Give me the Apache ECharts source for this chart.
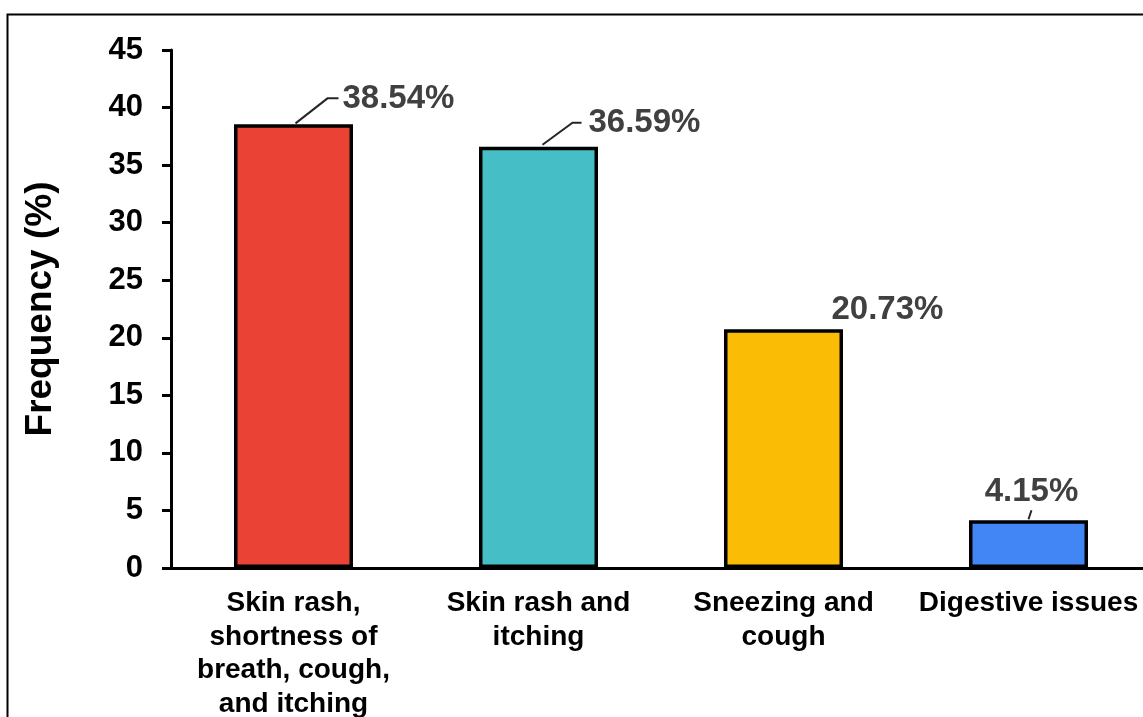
<!DOCTYPE html>
<html>
<head>
<meta charset="utf-8">
<title>Frequency of reported symptoms</title>
<script src="https://cdn.jsdelivr.net/npm/echarts@6/dist/echarts.min.js"></script>
<style>
  html, body { margin: 0; padding: 0; background: #ffffff; overflow: hidden; }
  #chart { width: 1143px; height: 717px; }
</style>
</head>
<body>
<div id="chart"></div>
<script>
// Symptom categories (x axis) and their frequencies in percent
const categories = [
  'Skin rash,\nshortness of\nbreath, cough,\nand itching',
  'Skin rash and\nitching',
  'Sneezing and\ncough',
  'Digestive issues'
];
const frequencies = [38.54, 36.59, 20.73, 4.15];
const barColors = ['#EA4335', '#46BEC6', '#FBBC05', '#4285F4'];
const yTicks = { min: 0, max: 45, interval: 5 };

const FONT = '"Liberation Sans", Arial, Helvetica, sans-serif';

// Placement of each value callout relative to the top centre of its bar:
// text anchor (dx, dy), text alignment and the leader line points.
const callouts = [
  { dx: 49, dy: -25, align: 'left',   line: [[2, -1], [34, -26], [45, -26]] },
  { dx: 50, dy: -24, align: 'left',   line: [[4, -2], [34, -24], [43, -24]] },
  { dx: 48, dy: -19, align: 'left',   line: null },
  { dx: 3,  dy: -28, align: 'center', line: [[0, -1], [3, -10]] }
];

const chart = echarts.init(document.getElementById('chart'), null, { renderer: 'canvas' });

const option = {
  backgroundColor: '#ffffff',
  animation: false,
  textStyle: { fontFamily: FONT },
  graphic: [{
    type: 'rect',
    silent: true,
    z: 100,
    shape: { x: 7.5, y: 14.5, width: 1400, height: 1000 },
    style: { fill: 'none', stroke: '#000000', lineWidth: 2 }
  }],
  grid: {
    left: 171,
    right: -8,
    top: 50,
    bottom: 149,
    containLabel: false,
    outerBoundsMode: 'none'
  },
  xAxis: {
    type: 'category',
    data: categories,
    axisLine: { show: true, lineStyle: { color: '#000000', width: 3 } },
    axisTick: { show: false },
    axisLabel: {
      interval: 0,
      margin: 19,
      color: '#000000',
      fontFamily: FONT,
      fontWeight: 'bold',
      fontSize: 28,
      lineHeight: 33.5,
      align: 'center',
      hideOverlap: false
    },
    splitLine: { show: false }
  },
  yAxis: {
    type: 'value',
    min: yTicks.min,
    max: yTicks.max,
    interval: yTicks.interval,
    name: 'Frequency (%)',
    nameLocation: 'middle',
    nameRotate: 90,
    nameGap: 112,
    nameTextStyle: {
      color: '#000000',
      fontFamily: FONT,
      fontWeight: 'bold',
      fontSize: 37
    },
    axisLine: { show: true, lineStyle: { color: '#000000', width: 3 } },
    axisTick: { show: true, inside: false, length: 9, lineStyle: { color: '#000000', width: 3 } },
    axisLabel: {
      margin: 28,
      color: '#000000',
      fontFamily: FONT,
      fontWeight: 'bold',
      fontSize: 31
    },
    splitLine: { show: false }
  },
  series: [
    {
      type: 'bar',
      barWidth: 119,
      data: frequencies.map((v, i) => ({
        value: v,
        itemStyle: { color: barColors[i] }
      })),
      itemStyle: { borderColor: '#000000', borderWidth: 3.5 },
      z: 2
    },
    {
      // value callouts with leader lines, positioned from the bar tops
      type: 'custom',
      data: frequencies.map((v, i) => [i, v]),
      z: 5,
      silent: true,
      renderItem: function (params, api) {
        const idx = params.dataIndex;
        const p = api.coord([api.value(0), api.value(1)]);
        const c = callouts[idx];
        const children = [];
        if (c.line) {
          children.push({
            type: 'polyline',
            shape: { points: c.line.map(q => [p[0] + q[0], p[1] + q[1]]) },
            style: { stroke: '#262626', lineWidth: 2, fill: null }
          });
        }
        children.push({
          type: 'text',
          x: p[0] + c.dx,
          y: p[1] + c.dy,
          style: {
            text: frequencies[idx].toFixed(2) + '%',
            fill: '#404040',
            font: 'bold 33px ' + FONT,
            align: c.align,
            verticalAlign: 'middle'
          }
        });
        return { type: 'group', children: children };
      }
    }
  ]
};

chart.setOption(option);
</script>
</body>
</html>
